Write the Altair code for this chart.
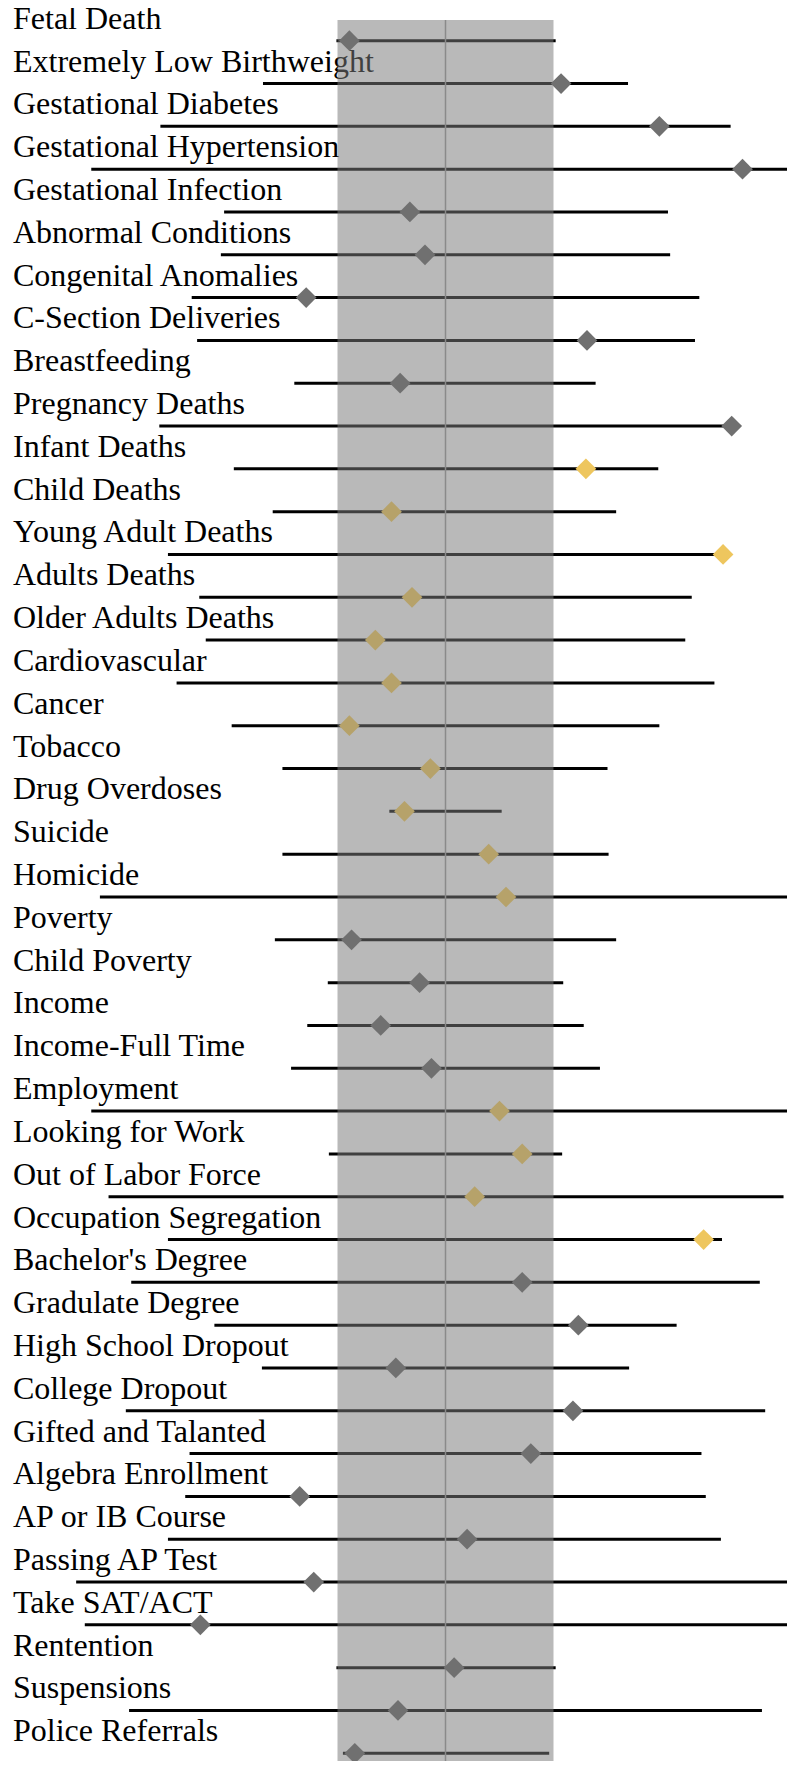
import altair as alt
import pandas as pd

labels = [
    "Fetal Death", "Extremely Low Birthweight", "Gestational Diabetes",
    "Gestational Hypertension", "Gestational Infection", "Abnormal Conditions",
    "Congenital Anomalies", "C-Section Deliveries", "Breastfeeding",
    "Pregnancy Deaths", "Infant Deaths", "Child Deaths", "Young Adult Deaths",
    "Adults Deaths", "Older Adults Deaths", "Cardiovascular", "Cancer",
    "Tobacco", "Drug Overdoses", "Suicide", "Homicide", "Poverty",
    "Child Poverty", "Income", "Income-Full Time", "Employment",
    "Looking for Work", "Out of  Labor Force", "Occupation Segregation",
    "Bachelor's Degree", "Gradulate Degree", "High School Dropout",
    "College Dropout", "Gifted and Talanted", "Algebra Enrollment",
    "AP or IB Course", "Passing AP Test", "Take SAT/ACT", "Rentention",
    "Suspensions", "Police Referrals",
]

low = [
    -1.01, -1.69, -2.64, -3.28, -2.05, -2.08, -2.35, -2.30, -1.40, -2.65,
    -1.96, -1.60, -2.57, -2.28, -2.22, -2.49, -1.98, -1.51, -0.52, -1.51,
    -3.20, -1.58, -1.09, -1.28, -1.43, -3.28, -1.08, -3.12, -2.57, -2.91,
    -2.14, -1.70, -2.96, -2.37, -2.41, -2.57, -3.42, -3.34, -1.01, -2.93,
    -0.95,
]

high = [
    1.02, 1.69, 2.64, 3.28, 2.06, 2.08, 2.35, 2.31, 1.39, 2.64,
    1.97, 1.58, 2.57, 2.28, 2.22, 2.49, 1.98, 1.50, 0.52, 1.51,
    3.20, 1.58, 1.09, 1.28, 1.43, 3.28, 1.08, 3.13, 2.56, 2.91,
    2.14, 1.70, 2.96, 2.37, 2.41, 2.55, 3.42, 3.34, 1.02, 2.93,
    0.96,
]

value = [
    -0.89, 1.07, 1.98, 2.75, -0.33, -0.19, -1.29, 1.31, -0.42, 2.65,
    1.30, -0.50, 2.57, -0.31, -0.65, -0.50, -0.89, -0.14, -0.38, 0.40,
    0.56, -0.87, -0.24, -0.60, -0.13, 0.50, 0.71, 0.27, 2.39, 0.71,
    1.23, -0.46, 1.18, 0.79, -1.35, 0.20, -1.22, -2.27, 0.08, -0.44,
    -0.84,
]

group = (
    ["Other"] * 10
    + ["Above", "Within", "Above", "Within", "Within", "Within", "Within",
       "Within", "Within", "Within", "Within"]
    + ["Other"] * 4
    + ["Within", "Within", "Within", "Above"]
    + ["Other"] * 12
)

band_low = [-1.0]
band_high = [1.0]
center = [0.0]

group_names = ["Other", "Within", "Above"]
group_colors = ["#707070", "#B6A26A", "#EEC65E"]

df = pd.DataFrame({
    "label": labels, "low": low, "high": high, "value": value, "group": group,
})
band_df = pd.DataFrame({"lo": band_low, "hi": band_high})
center_df = pd.DataFrame({"c": center})

x_scale = alt.Scale(domain=[-4.051, 3.162], nice=False, zero=False)
y_scale = alt.Scale(type="point", domain=labels, range=[32.7, 1745.3], padding=0)

base = alt.Chart(df)

text = base.mark_text(
    align="left", baseline="alphabetic", dy=-12,
    font="Liberation Serif", fontSize=32, color="#000000",
).encode(
    x=alt.value(5),
    y=alt.Y("label:N", scale=y_scale, axis=None),
    text="label:N",
)

lines = base.mark_rule(color="#000000", strokeWidth=3, clip=True).encode(
    x=alt.X("low:Q", scale=x_scale, axis=None),
    x2="high:Q",
    y=alt.Y("label:N", scale=y_scale, axis=None),
)

band = alt.Chart(band_df).mark_rect(color="#7a7a7a", opacity=0.525).encode(
    x=alt.X("lo:Q", scale=x_scale, axis=None),
    x2="hi:Q",
    y=alt.value(12),
    y2=alt.value(1753),
)

center_rule = alt.Chart(center_df).mark_rule(color="#8a8a8a", strokeWidth=1.5).encode(
    x=alt.X("c:Q", scale=x_scale, axis=None),
    y=alt.value(12),
    y2=alt.value(1753),
)

diamonds = base.mark_point(shape="diamond", filled=True, size=430, opacity=1, strokeWidth=0).encode(
    x=alt.X("value:Q", scale=x_scale, axis=None),
    y=alt.Y("label:N", scale=y_scale, axis=None),
    color=alt.Color("group:N", scale=alt.Scale(domain=group_names, range=group_colors), legend=None),
)

chart = alt.layer(text, lines, band, center_rule, diamonds).properties(
    width=779, height=1753,
    autosize=alt.AutoSizeParams(type="none"),
    padding=0,
    background="white",
).configure_view(stroke=None)

chart.save("out.html", embed_options={"renderer": "svg", "actions": False})
